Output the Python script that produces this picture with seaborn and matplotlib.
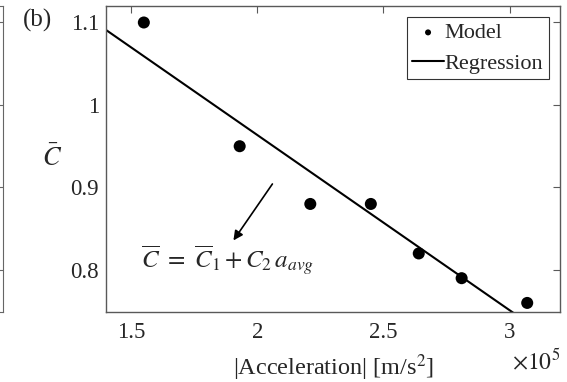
import numpy as np
import pandas as pd
import matplotlib
matplotlib.use("Agg")
import matplotlib.pyplot as plt
import seaborn as sns

# Model points (acceleration in units of 1e5 m/s^2)
accel = [1.55, 1.93, 2.21, 2.45, 2.64, 2.81, 3.07]
c_bar = [1.10, 0.95, 0.88, 0.88, 0.82, 0.79, 0.76]
xticks = [1.5, 2, 2.5, 3]
xtick_labels = ["1.5", "2", "2.5", "3"]
yticks = [0.8, 0.9, 1.0, 1.1]
ytick_labels = ["0.8", "0.9", "1", "1.1"]

sns.set_style("white")
plt.rcParams["font.family"] = ["Liberation Serif", "DejaVu Serif"]
plt.rcParams["mathtext.fontset"] = "stix"

df = pd.DataFrame({"accel": accel, "c": c_bar})

fig = plt.figure(figsize=(5.67, 3.82), dpi=100)
ax = fig.add_axes([106 / 567, 70 / 382, 454 / 567, 306 / 382])

# edge of neighbouring panel (a), mostly cropped
ax0 = fig.add_axes([-0.5, 70 / 382, 0.5 + 3 / 567, 306 / 382])
ax0.set_ylim(0.749, 1.12)
ax0.set_yticks(yticks)
ax0.set_xticks([])
ax0.tick_params(axis="y", direction="in", right=True, left=False,
                labelleft=False, length=4, color="0.4")
for s in ax0.spines.values():
    s.set_color("0.4")
    s.set_linewidth(0.8)

ax.set_xlim(1.4, 3.2)
ax.set_ylim(0.749, 1.12)

sns.scatterplot(data=df, x="accel", y="c", ax=ax, color="black", s=75,
                edgecolor="none", label="Model", zorder=3)
sns.regplot(data=df, x="accel", y="c", ax=ax, scatter=False, ci=None,
            truncate=False, color="black", line_kws={"lw": 1.5},
            label="Regression")
ax.set_xlim(1.4, 3.2)
ax.set_ylim(0.749, 1.12)

ax.set_xticks(xticks)
ax.set_xticklabels(xtick_labels)
ax.set_yticks(yticks)
ax.set_yticklabels(ytick_labels)
ax.tick_params(direction="in", top=True, right=True, length=5,
               width=0.8, color="0.35", labelsize=16.5)
ax.tick_params(axis="x", pad=7)
ax.tick_params(axis="y", pad=5)
for s in ax.spines.values():
    s.set_color("0.35")
    s.set_linewidth(1.0)

ax.set_xlabel(r"|Acceleration| [m/s$^2$]", fontsize=17.5, labelpad=7)
ax.set_ylabel(r"$\bar{C}$", fontsize=19, rotation=0, va="center")
ax.yaxis.set_label_coords(-0.118, 0.505)

fig.text(536 / 567, 1 - 361 / 382, r"$\times10^5$", fontsize=17,
         ha="center", va="center")
fig.text(37 / 567, 1 - 20 / 382, "(b)", fontsize=18, ha="center",
         va="center")

ax.annotate("", xy=(1.899, 0.833), xytext=(2.066, 0.907),
            arrowprops=dict(arrowstyle="-|>", color="black", lw=1.2,
                            mutation_scale=14))
ax.text(1.884, 0.812,
        r"$\overline{C}\ =\ \overline{C}_1 + C_2\, a_{avg}$",
        fontsize=18, ha="center", va="center")

leg = ax.legend(loc="upper right", frameon=True, fancybox=False,
                edgecolor="black", fontsize=16, handlelength=1.4,
                handletextpad=0.05, borderpad=0.25, labelspacing=0.45,
                markerscale=0.5, borderaxespad=0.5)
leg.get_frame().set_linewidth(0.8)

fig.savefig("out.png", dpi=100)
